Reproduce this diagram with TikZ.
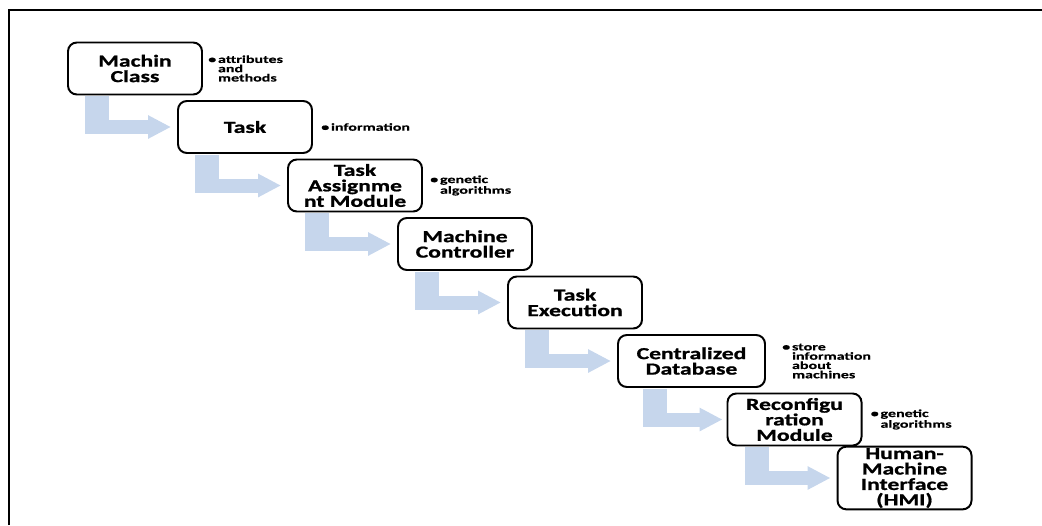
\documentclass[tikz,border=0pt]{standalone}
\usepackage{fontspec}
\setmainfont[FakeStretch=1.4, BoldFeatures={FakeBold=1}]{Carlito}
\newfontfamily\notefont[FakeStretch=1.5, BoldFeatures={FakeBold=0.4}]{Carlito}
\usepackage{tikz}
\usetikzlibrary{positioning, arrows.meta}
\definecolor{barblue}{RGB}{198,214,236}
\tikzstyle{stage} = [rectangle, rounded corners=0.22cm,
minimum width=3.35cm,
minimum height=1.3cm,
inner sep=1pt,
align=center,
draw=black,
line width=1.4pt,
fill=white,
font=\bfseries\fontsize{12}{11}\selectfont]
\tikzstyle{note} = [inner sep=0pt,
align=left,
font=\notefont\bfseries\fontsize{7.6}{6.6}\selectfont]
\tikzstyle{bar} = [fill=barblue]
\tikzstyle{barhead} = [draw=barblue, line width=0.35cm,
-{Triangle[length=0.575cm, width=0.55cm]}]
\tikzstyle{frame} = [line width=1.8pt]
\newcommand{\bul}{\textbullet\,}
\newcommand{\ind}{\hphantom{\textbullet\,}}

\begin{document}
\begin{tikzpicture}[node distance=1.4625cm]
    \useasboundingbox (0,0) rectangle (26.05,-13.125);
    \draw [frame] (0.225,-13.125) |- (26.05,-0.25);

    \node (mc) [stage] at (3.375,-1.7125) {Machin\\Class};
    \node (task) [stage, below of=mc, xshift=2.75cm] {Task};
    \node (assign) [stage, below of=task, xshift=2.75cm] {Task\\Assignme\\nt Module};
    \node (ctrl) [stage, below of=assign, xshift=2.75cm] {Machine\\Controller};
    \node (exec) [stage, below of=ctrl, xshift=2.75cm] {Task\\Execution};
    \node (db) [stage, below of=exec, xshift=2.9125cm, minimum width=3.675cm] {Centralized\\Database};
    \node (reconf) [stage, below of=db, xshift=2.575cm] {Reconfigu\\ration\\Module};
    \node (hmi) [stage, below of=reconf, xshift=2.75cm] {Human-\\Machine\\Interface\\(HMI)};

    \node (mcnote) [note, right=0.125cm of mc] {\bul attributes\\\ind and\\\ind methods};
    \node (tasknote) [note, right=0.2cm of task] {\bul information};
    \node (assignnote) [note, right=0.175cm of assign] {\bul genetic\\\ind algorithms};
    \node (dbnote) [note, right=0.4cm of db] {\bul store\\\ind information\\\ind about\\\ind machines};
    \node (reconfnote) [note, right=0.2cm of reconf] {\bul genetic\\\ind algorithms};

    % bent arrows
    \fill [bar] ([xshift=0.45cm, yshift=-0.7pt]mc.south west) rectangle ([xshift=1.05cm, yshift=-0.175cm]mc.south west |- task.west);
    \draw [barhead] ([xshift=0.45cm]mc.south west |- task.west) -- ([xshift=-0.15cm]task.west);
    \fill [bar] ([xshift=0.45cm, yshift=-0.7pt]task.south west) rectangle ([xshift=1.05cm, yshift=-0.175cm]task.south west |- assign.west);
    \draw [barhead] ([xshift=0.45cm]task.south west |- assign.west) -- ([xshift=-0.15cm]assign.west);
    \fill [bar] ([xshift=0.45cm, yshift=-0.7pt]assign.south west) rectangle ([xshift=1.05cm, yshift=-0.175cm]assign.south west |- ctrl.west);
    \draw [barhead] ([xshift=0.45cm]assign.south west |- ctrl.west) -- ([xshift=-0.15cm]ctrl.west);
    \fill [bar] ([xshift=0.45cm, yshift=-0.7pt]ctrl.south west) rectangle ([xshift=1.05cm, yshift=-0.175cm]ctrl.south west |- exec.west);
    \draw [barhead] ([xshift=0.45cm]ctrl.south west |- exec.west) -- ([xshift=-0.15cm]exec.west);
    \fill [bar] ([xshift=0.45cm, yshift=-0.7pt]exec.south west) rectangle ([xshift=1.05cm, yshift=-0.175cm]exec.south west |- db.west);
    \draw [barhead] ([xshift=0.45cm]exec.south west |- db.west) -- ([xshift=-0.15cm]db.west);
    \fill [bar] ([xshift=0.65cm, yshift=-0.7pt]db.south west) rectangle ([xshift=1.25cm, yshift=-0.175cm]db.south west |- reconf.west);
    \draw [barhead] ([xshift=0.65cm]db.south west |- reconf.west) -- ([xshift=-0.1cm]reconf.west);
    \fill [bar] ([xshift=0.45cm, yshift=-0.7pt]reconf.south west) rectangle ([xshift=1.05cm, yshift=-0.175cm]reconf.south west |- hmi.west);
    \draw [barhead] ([xshift=0.45cm]reconf.south west |- hmi.west) -- ([xshift=-0.15cm]hmi.west);

\end{tikzpicture}
\end{document}
